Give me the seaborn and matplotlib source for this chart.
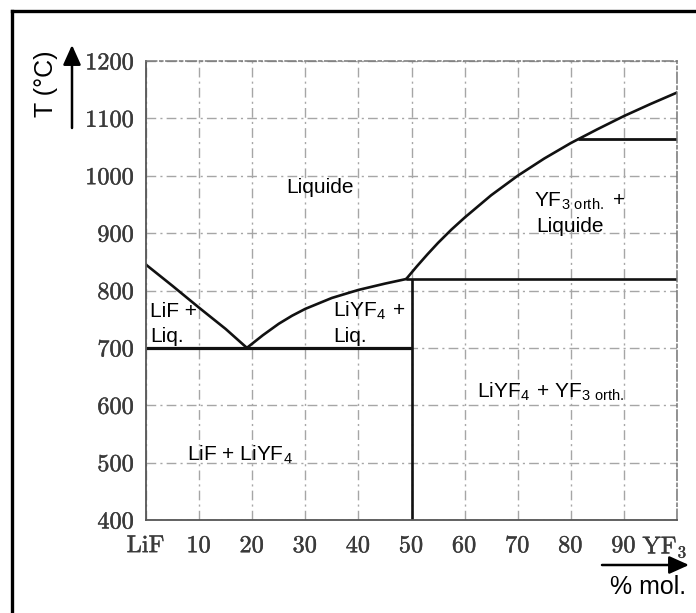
import matplotlib
matplotlib.use("Agg")
import matplotlib.pyplot as plt
import matplotlib.transforms as mtransforms
import matplotlib.patheffects as pe
from matplotlib.patches import FancyArrowPatch
from matplotlib.lines import Line2D
import seaborn as sns
import pandas as pd

# ---- data ----
liq_left_x = [0, 5, 10, 15, 19]
liq_left_t = [845, 808, 770, 733, 700]

liq_mid_x = [19, 22, 25, 27.5, 30, 35, 40, 45, 49]
liq_mid_t = [700, 722, 742, 756, 768, 787, 801, 812, 820]

liq_right_x = [49, 51, 53, 55, 57.5, 60, 65, 70, 75, 80, 85, 90, 95, 100]
liq_right_t = [820, 842, 863, 883, 906, 927, 966, 1000, 1030, 1057, 1081, 1104, 1125, 1145]

eutectic_t = 700
eutectic_x = [0, 50]
peritectic_t = 820
peritectic_x = [49, 100]
transition_t = 1064
transition_x = [81.4, 100]
compound_x = 50
compound_t = [400, 820]

x_ticks = [0, 10, 20, 30, 40, 50, 60, 70, 80, 90, 100]
x_tick_labels = [r"$\mathrm{LiF}$", "$10$", "$20$", "$30$", "$40$", "$50$",
                 "$60$", "$70$", "$80$", "$90$", r"$\mathrm{YF}_3$"]
y_ticks = [400, 500, 600, 700, 800, 900, 1000, 1100, 1200]
y_tick_labels = ["$400$", "$500$", "$600$", "$700$", "$800$", "$900$", "$1000$", "$1100$", "$1200$"]

sns.set_theme(style="white")
plt.rcParams["font.family"] = ["Liberation Sans", "DejaVu Sans"]
plt.rcParams["mathtext.fontset"] = "cm"

W, H = 696, 613
fig = plt.figure(figsize=(W / 100, H / 100), dpi=100)
fig.patch.set_facecolor("white")
ax = fig.add_axes([146 / W, 1 - 520 / H, (677 - 146) / W, (520 - 61) / H])
ax.set_facecolor("white")

line_kw = dict(color="#111111", lw=1.9, estimator=None, sort=False, legend=False)
sns.lineplot(data=pd.DataFrame({"x": liq_left_x, "t": liq_left_t}), x="x", y="t", ax=ax, **line_kw)
sns.lineplot(data=pd.DataFrame({"x": liq_mid_x, "t": liq_mid_t}), x="x", y="t", ax=ax, **line_kw)
sns.lineplot(data=pd.DataFrame({"x": liq_right_x, "t": liq_right_t}), x="x", y="t", ax=ax, **line_kw)
ax.plot(eutectic_x, [eutectic_t] * 2, color="#111111", lw=2.3, solid_capstyle="butt")
ax.plot(peritectic_x, [peritectic_t] * 2, color="#111111", lw=1.9, solid_capstyle="butt")
ax.plot(transition_x, [transition_t] * 2, color="#111111", lw=2.0, solid_capstyle="butt")
ax.plot([compound_x] * 2, compound_t, color="#111111", lw=1.9, solid_capstyle="butt")

ax.set_xlim(0, 100)
ax.set_ylim(400, 1200)
ax.set_xticks(x_ticks)
ax.set_xticklabels(x_tick_labels)
ax.set_yticks(y_ticks)
ax.set_yticklabels(y_tick_labels)
ax.set_xlabel("")
ax.set_ylabel("")
ax.tick_params(axis="both", length=0, labelsize=17.5, colors="#3a3a3a")
ax.tick_params(axis="x", pad=11)
ax.tick_params(axis="y", pad=8)
for lab in ax.get_xticklabels() + ax.get_yticklabels():
    lab.set_path_effects([pe.withStroke(linewidth=0.3, foreground="#3a3a3a")])

# shift last x tick label a bit left
offset = mtransforms.ScaledTranslation(-12 / 100, 0, fig.dpi_scale_trans)
xlabs = ax.get_xticklabels()
xlabs[-1].set_transform(xlabs[-1].get_transform() + offset)

ax.grid(True, color="#a6a6a6", lw=1.0, linestyle=(0, (7, 3, 1.5, 3)))
ax.set_axisbelow(True)
for side in ["left", "bottom"]:
    ax.spines[side].set_color("#555555")
    ax.spines[side].set_linewidth(1.3)
for side in ["top", "right"]:
    ax.spines[side].set_color("#777777")
    ax.spines[side].set_linewidth(1.1)
    ax.spines[side].set_linestyle((0, (7, 2, 2, 2)))

# ---- region labels ----
fs = 15
tkw = dict(fontsize=fs, color="black", va="baseline", ha="left")
ax.text(26.4, 970, "Liquide", **tkw)
ax.text(0.8, 754, "LiF +", **tkw)
ax.text(0.8, 710, "Liq.", **tkw)
ax.text(35.2, 754, r"LiYF$_\mathregular{4}$ +", **tkw)
ax.text(35.2, 710, "Liq.", **tkw)
ax.text(7.7, 503, r"LiF + LiYF$_\mathregular{4}$", **tkw)
ax.text(62.3, 614, r"LiYF$_\mathregular{4}$ + YF$_\mathregular{3\ orth.}$", **tkw)
ax.text(73.0, 946, r"YF$_\mathregular{3\ orth.}$ +", **tkw)
ax.text(73.4, 902, "Liquide", **tkw)

# ---- frame and axis arrows ----
fig.add_artist(Line2D([12 / W, 12 / W], [-0.01, 1 - 11 / H], transform=fig.transFigure,
                      color="black", lw=2.4, solid_capstyle="projecting"))
fig.add_artist(Line2D([12 / W, 1.01], [1 - 11 / H, 1 - 11 / H], transform=fig.transFigure,
                      color="black", lw=2.4, solid_capstyle="projecting"))

fig.add_artist(FancyArrowPatch((72 / W, 1 - 128 / H), (72 / W, 1 - 45 / H),
                               transform=fig.transFigure, arrowstyle="-|>,head_length=0.8,head_width=0.36",
                               mutation_scale=15, color="black", lw=1.8, shrinkA=0, shrinkB=0))
fig.add_artist(FancyArrowPatch((602 / W, 1 - 565 / H), (689 / W, 1 - 565 / H),
                               transform=fig.transFigure, arrowstyle="-|>,head_length=0.8,head_width=0.36",
                               mutation_scale=15, color="black", lw=1.8, shrinkA=0, shrinkB=0))
fig.text(46 / W, 1 - 84 / H, "T (°C)", rotation=90, ha="center", va="center", fontsize=18, color="black")
fig.text(648 / W, 1 - 587 / H, "% mol.", ha="center", va="center", fontsize=18, color="black")

fig.savefig("out.png", dpi=100, facecolor="white")
